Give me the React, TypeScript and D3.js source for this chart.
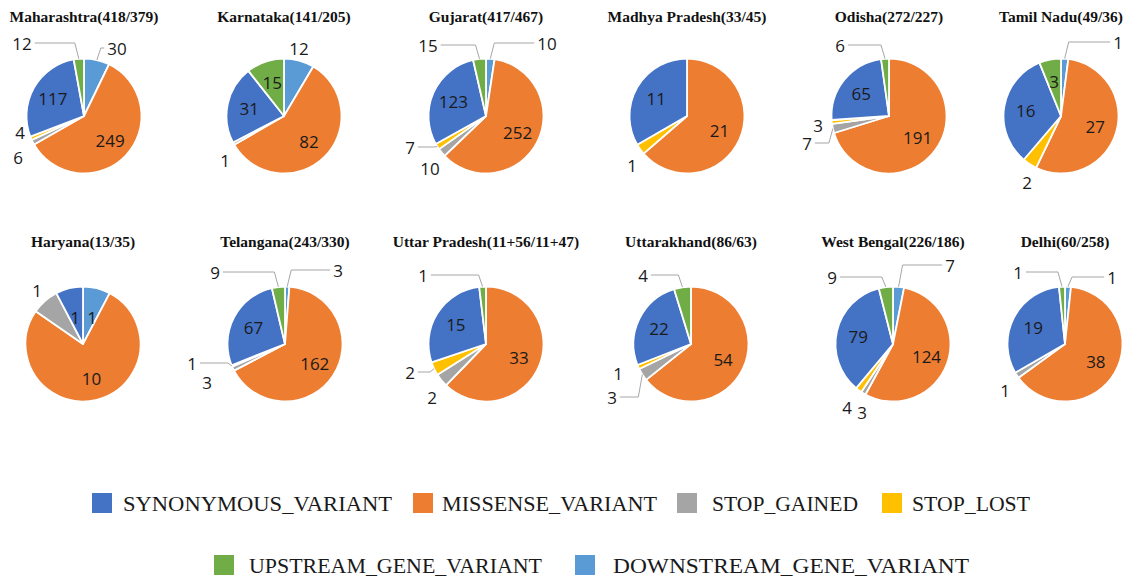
import React from "react";
import * as d3 from "d3";

// Variant classes, in legend order
const categories = [
  "SYNONYMOUS_VARIANT",
  "MISSENSE_VARIANT",
  "STOP_GAINED",
  "STOP_LOST",
  "UPSTREAM_GENE_VARIANT",
  "DOWNSTREAM_GENE_VARIANT",
];
const categoryKeys = ["syn", "mis", "sg", "sl", "up", "ds"] as const;
type Key = (typeof categoryKeys)[number];

const seriesColors: Record<Key, string> = {
  syn: "#4472C4",
  mis: "#ED7D31",
  sg: "#A5A5A5",
  sl: "#FFC000",
  up: "#70AD47",
  ds: "#5B9BD5",
};

// One pie per state
const stateTitles = [
  "Maharashtra(418/379)",
  "Karnataka(141/205)",
  "Gujarat(417/467)",
  "Madhya Pradesh(33/45)",
  "Odisha(272/227)",
  "Tamil Nadu(49/36)",
  "Haryana(13/35)",
  "Telangana(243/330)",
  "Uttar Pradesh(11+56/11+47)",
  "Uttarakhand(86/63)",
  "West Bengal(226/186)",
  "Delhi(60/258)",
];

const synonymous = [117, 31, 123, 11, 65, 16, 1, 67, 15, 22, 79, 19];
const missense = [249, 82, 252, 21, 191, 27, 10, 162, 33, 54, 124, 38];
const stopGained = [6, 1, 10, 0, 7, 0, 1, 3, 2, 3, 3, 1];
const stopLost = [4, 0, 7, 1, 3, 2, 0, 1, 2, 1, 4, 0];
const upstream = [12, 15, 15, 0, 6, 3, 0, 9, 1, 4, 9, 1];
const downstream = [30, 12, 10, 0, 0, 1, 1, 3, 0, 0, 7, 1];

const seriesValues: Record<Key, number[]> = {
  syn: synonymous,
  mis: missense,
  sg: stopGained,
  sl: stopLost,
  up: upstream,
  ds: downstream,
};

// Slices run clockwise from 12 o'clock in this order
const sliceOrder: Key[] = ["ds", "mis", "sg", "sl", "syn", "up"];

// Layout
const W = 1134;
const H = 581;
const R = 57.5;
const centersX = [
  [84, 284, 486, 687, 889, 1061],
  [83, 285, 486, 691, 893, 1065],
];
const rowCY = [116, 344];
const titleY = [22, 247];
const labelFont = 17;

// Labels placed beside the pie: [dx, dy, leader line] from the pie centre
type Place = [number, number, boolean];
const labelPlacement: Partial<Record<Key, Place>>[] = [
  { ds: [33, -68, true], up: [-62, -73, true], sl: [-64, 16, false], sg: [-66, 41, false] },
  { ds: [15, -68, false], sg: [-59, 44, false] },
  { up: [-58, -71, true], ds: [61, -73, true], sl: [-76, 31, true], sg: [-56, 52, false] },
  { sl: [-55, 49, false] },
  { up: [-49, -71, true], sl: [-71, 9, false], sg: [-82, 27, true] },
  { ds: [57, -74, true], sl: [-34, 66, false] },
  { sg: [-46, -54, false], ds: [9, -27, false], syn: [-8, -27, false] },
  { up: [-70, -72, true], ds: [53, -74, true], sl: [-93, 19, true], sg: [-78, 38, false] },
  { up: [-63, -69, true], sl: [-76, 28, true], sg: [-54, 53, false] },
  { up: [-48, -69, true], sl: [-73, 29, false], sg: [-79, 53, true] },
  { up: [-61, -67, true], ds: [57, -79, true], sl: [-46, 63, false], sg: [-31, 68, false] },
  { up: [-47, -72, true], ds: [47, -67, true], sg: [-60, 46, false] },
];

// Legend rows: [category index, square x, text x, text width]
const legendRows = [
  { y: 493, items: [[0, 92, 123, 269], [1, 413, 442, 215], [2, 677, 712, 146], [3, 882, 912, 118]] },
  { y: 555, items: [[4, 214, 249, 293], [5, 575, 613, 356]] },
];

type Slice = { key: Key; value: number };

const pieGen = d3
  .pie<Slice>()
  .sort(null)
  .value((d) => d.value)
  .startAngle(0)
  .endAngle(2 * Math.PI);
const arcGen = d3.arc<d3.PieArcDatum<Slice>>().innerRadius(0).outerRadius(R);
const innerLabelArc = d3
  .arc<d3.PieArcDatum<Slice>>()
  .innerRadius(R * 0.62)
  .outerRadius(R * 0.62);
const edgeArc = d3.arc<d3.PieArcDatum<Slice>>().innerRadius(R).outerRadius(R);

function StatePie({ index }: { index: number }) {
  const row = index < 6 ? 0 : 1;
  const cx = centersX[row][index % 6];
  const cy = rowCY[row];
  const slices = sliceOrder.map((key) => ({ key, value: seriesValues[key][index] }));
  const arcs = pieGen(slices).filter((a) => a.data.value > 0);
  const place = labelPlacement[index];

  return (
    <g>
      <text
        x={cx}
        y={titleY[row]}
        textAnchor="middle"
        fontFamily="'Liberation Serif', serif"
        fontWeight="bold"
        fontSize={15.5}
        fill="#111"
      >
        {stateTitles[index]}
      </text>
      <g transform={`translate(${cx},${cy})`}>
        {arcs.map((a) => (
          <path
            key={a.data.key}
            d={arcGen(a) || ""}
            fill={seriesColors[a.data.key]}
            stroke="#fff"
            strokeWidth={1.8}
            strokeLinejoin="round"
          />
        ))}
        {arcs.map((a) => {
          const p = place[a.data.key];
          const txt = String(a.data.value);
          let lx: number, ly: number;
          let leader: string | null = null;
          if (p) {
            lx = p[0];
            ly = p[1];
            if (p[2]) {
              const [ax, ay] = edgeArc.centroid(a);
              const hw = (txt.length * 0.57 * labelFont) / 2;
              const pts: [number, number][] = [];
              if (lx < ax) {
                const sx = lx + hw + 3;
                pts.push([sx, ly]);
                if (ax - 4 > sx) pts.push([ax - 4, ly]);
              } else {
                const sx = lx - hw - 3;
                pts.push([sx, ly]);
                if (ax + 4 < sx) pts.push([ax + 4, ly]);
              }
              pts.push([ax, ay]);
              leader = d3.line()(pts);
            }
          } else {
            [lx, ly] = innerLabelArc.centroid(a);
          }
          return (
            <g key={`l-${a.data.key}`}>
              {leader && <path d={leader} fill="none" stroke="#A6A6A6" strokeWidth={1} />}
              <text
                x={lx}
                y={ly}
                textAnchor="middle"
                dominantBaseline="central"
                fontFamily="'Open Sans', sans-serif"
                fontSize={labelFont}
                fill="#1a1a1a"
              >
                {txt}
              </text>
            </g>
          );
        })}
      </g>
    </g>
  );
}

export default function App() {
  return (
    <svg
      width={W}
      height={H}
      viewBox={`0 0 ${W} ${H}`}
      style={{ position: "absolute", left: 0, top: 0, background: "#fff" }}
    >
      <rect width={W} height={H} fill="#fff" />
      {stateTitles.map((_, i) => (
        <StatePie key={i} index={i} />
      ))}
      {legendRows.map((row, ri) => (
        <g key={ri}>
          {row.items.map(([ci, sx, tx, tw]) => (
            <g key={ci}>
              <rect x={sx} y={row.y} width={20} height={20} fill={seriesColors[categoryKeys[ci]]} />
              <text
                x={tx}
                y={row.y + 18}
                fontFamily="'Liberation Serif', serif"
                fontSize={22}
                fill="#1a1a1a"
                textLength={tw}
                lengthAdjust="spacingAndGlyphs"
              >
                {categories[ci]}
              </text>
            </g>
          ))}
        </g>
      ))}
    </svg>
  );
}
